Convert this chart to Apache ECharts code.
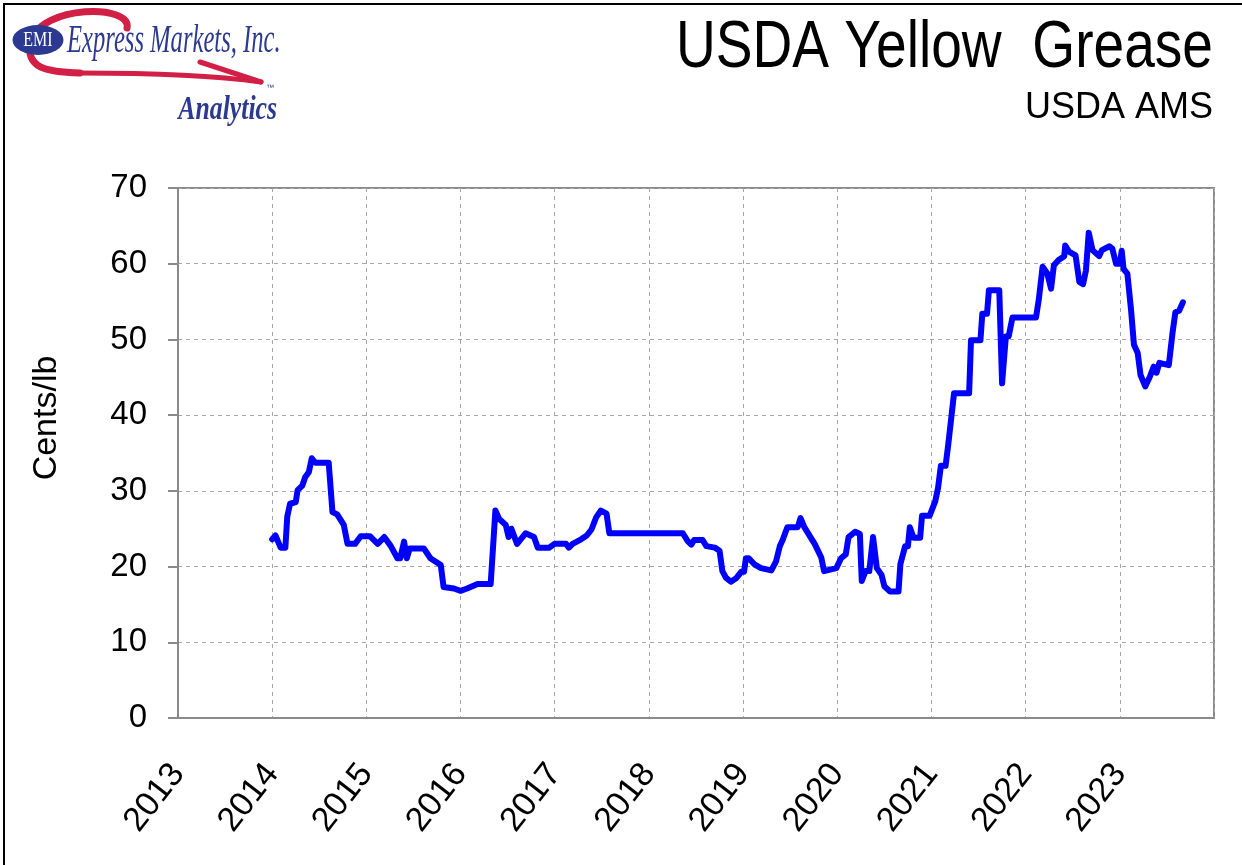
<!DOCTYPE html>
<html>
<head>
<meta charset="utf-8">
<script src="https://cdn.jsdelivr.net/npm/echarts@6/dist/echarts.min.js"></script>
<style>
html,body{margin:0;padding:0;background:#fff;}
#c{width:1242px;height:865px;}
</style>
</head>
<body>
<div id="c"></div>
<script>
// Decimal years and prices (cents/lb)
const years = [
2014.00,2014.035,2014.09,2014.14,2014.16,2014.19,2014.25,2014.27,2014.32,2014.35,2014.39,2014.42,2014.46,2014.60,2014.64,2014.69,2014.76,2014.80,2014.88,2014.94,
2015.04,2015.12,2015.19,2015.26,2015.33,2015.36,2015.40,2015.43,2015.46,2015.61,2015.68,2015.79,2015.82,2015.93,
2016.00,2016.07,2016.18,2016.32,2016.37,2016.41,2016.48,2016.51,2016.54,2016.60,2016.69,2016.78,2016.82,2016.94,
2017.00,2017.12,2017.15,2017.19,2017.28,2017.34,2017.39,2017.44,2017.49,2017.55,2017.58,
2018.36,2018.41,2018.45,2018.48,2018.57,2018.61,2018.70,2018.75,2018.78,2018.82,2018.87,2018.93,2018.98,
2019.01,2019.03,2019.06,2019.12,2019.19,2019.30,2019.35,2019.39,2019.42,2019.47,2019.58,2019.61,2019.65,2019.72,2019.76,2019.83,2019.86,2019.99,
2020.04,2020.09,2020.12,2020.19,2020.24,2020.26,2020.30,2020.34,2020.38,2020.42,2020.47,2020.50,2020.56,2020.65,2020.67,2020.72,2020.75,2020.77,2020.81,2020.88,2020.90,2020.98,
2021.04,2021.07,2021.10,2021.15,2021.18,2021.21,2021.24,2021.40,2021.42,2021.52,2021.54,2021.59,2021.61,2021.72,2021.75,2021.79,2021.82,2021.86,
2022.11,2022.14,2022.18,2022.23,2022.27,2022.30,2022.35,2022.41,2022.42,2022.46,2022.53,2022.57,2022.61,2022.64,2022.67,2022.71,2022.78,2022.81,2022.89,2022.92,2022.96,
2023.00,2023.02,2023.04,2023.08,2023.12,2023.15,2023.19,2023.22,2023.27,2023.32,2023.36,2023.39,2023.42,2023.52,2023.56,2023.59,2023.63,2023.67
];
const prices = [
23.6,24.1,22.5,22.5,26.6,28.3,28.5,30.1,30.7,31.8,32.5,34.3,33.7,33.7,27.2,26.9,25.5,23.0,23.0,24.0,
24.0,23.0,23.9,22.7,21.1,21.1,23.3,21.1,22.4,22.4,21.1,20.2,17.3,17.1,
16.8,17.1,17.7,17.7,27.4,26.3,25.5,23.9,25.0,23.0,24.4,23.9,22.5,22.5,
23.0,23.0,22.5,23.0,23.6,24.1,24.9,26.5,27.4,27.0,24.4,
24.4,23.4,22.9,23.5,23.5,22.7,22.5,22.1,19.4,18.5,18.0,18.5,19.3,
19.3,21.1,21.1,20.3,19.8,19.5,20.7,22.7,23.5,25.2,25.2,26.4,25.2,23.8,23.0,21.2,19.4,19.8,
21.1,21.6,23.9,24.6,24.3,18.1,19.4,19.4,23.9,19.8,18.9,17.4,16.7,16.7,20.3,22.7,22.7,25.2,23.8,23.8,26.7,26.7,
28.6,30.4,33.3,33.3,36.3,39.6,42.9,42.9,49.9,49.9,53.4,53.4,56.5,56.5,44.2,50.4,50.4,52.9,
52.9,55.3,59.6,58.7,56.7,59.8,60.5,61.0,62.4,61.6,61.1,57.6,57.3,59.1,64.1,61.8,61.0,61.8,62.3,62.0,60.0,
60.0,61.7,59.3,58.7,53.8,49.3,48.2,45.3,43.8,45.1,46.4,45.6,46.9,46.6,50.9,53.6,53.8,54.9
];
const yearTicks = [2013,2014,2015,2016,2017,2018,2019,2020,2021,2022,2023];
const titleText = 'USDA Yellow  Grease';
const subtitleText = 'USDA AMS';
const yAxisTitle = 'Cents/lb';

const seriesData = years.map((y, i) => [y, prices[i]]);
const SANS = "'Liberation Sans', Arial, sans-serif";

const chart = echarts.init(document.getElementById('c'), null, {renderer: 'canvas'});
chart.setOption({
  backgroundColor: '#ffffff',
  animation: false,
  grid: {left: 178, right: 28, top: 188, bottom: 147, show: true, borderColor: '#8a8a8a', borderWidth: 2, backgroundColor: 'transparent'},
  xAxis: {
    type: 'value', min: 2013, max: 2024, interval: 1,
    axisLine: {show: true, lineStyle: {color: '#8a8a8a', width: 2}},
    axisTick: {show: false},
    splitLine: {show: true, lineStyle: {color: '#a6a6a6', type: [4, 4], width: 1}},
    axisLabel: {
      rotate: 52, align: 'right', verticalAlign: 'middle', margin: 50,
      fontFamily: SANS, fontSize: 34, color: '#000',
      showMaxLabel: false,
      formatter: v => (yearTicks.indexOf(v) >= 0 ? String(v) : '')
    }
  },
  yAxis: {
    type: 'value', min: 0, max: 70, interval: 10,
    name: yAxisTitle, nameLocation: 'middle', nameGap: 114, nameRotate: 90,
    nameTextStyle: {fontFamily: SANS, fontSize: 34, color: '#000', padding: [0, 0, 0, 70]},
    axisLine: {show: true, lineStyle: {color: '#8a8a8a', width: 2}},
    axisTick: {show: true, inside: false, length: 10, lineStyle: {color: '#8a8a8a', width: 2}},
    splitLine: {show: true, lineStyle: {color: '#a6a6a6', type: [4, 4], width: 1}},
    axisLabel: {margin: 31, fontFamily: SANS, fontSize: 33, color: '#000'}
  },
  series: [{
    type: 'line', data: seriesData, showSymbol: false, symbol: 'none',
    lineStyle: {color: '#0000ff', width: 6, join: 'round', cap: 'round'},
    z: 5
  }],
  graphic: [
    // outer frame (top & left visible)
    {type: 'rect', shape: {x: 4, y: 4, width: 1300, height: 900}, style: {fill: 'none', stroke: '#000', lineWidth: 2}, silent: true},
    // title
    {type: 'text', x: 1213, y: 49, scaleX: 0.835, style: {text: titleText, align: 'right', verticalAlign: 'middle', font: "66px 'Liberation Sans', Arial, sans-serif", fill: '#000'}},
    {type: 'text', x: 1213, y: 108, style: {text: subtitleText, align: 'right', verticalAlign: 'middle', font: "36px 'Liberation Sans', Arial, sans-serif", fill: '#000'}},
    // logo swoosh
    {type: 'bezierCurve', shape: {x1: 127, y1: 28, cpx1: 132, cpy1: 4, cpx2: 42, cpy2: 4, x2: 30, y2: 42}, style: {stroke: '#d21f45', lineWidth: 7, fill: 'none', lineCap: 'round'}},
    {type: 'bezierCurve', shape: {x1: 30, y1: 42, cpx1: 26, cpy1: 68, cpx2: 45, cpy2: 72, x2: 80, y2: 73}, style: {stroke: '#d21f45', lineWidth: 7, fill: 'none', lineCap: 'round'}},
    {type: 'bezierCurve', shape: {x1: 80, y1: 73, cpx1: 150, cpy1: 73, cpx2: 210, cpy2: 75, x2: 261, y2: 82}, style: {stroke: '#d21f45', lineWidth: 5, fill: 'none', lineCap: 'round'}},
    {type: 'line', shape: {x1: 200, y1: 62, x2: 261, y2: 82}, style: {stroke: '#d21f45', lineWidth: 5, lineCap: 'round'}},
    // logo ellipse
    {type: 'circle', x: 38, y: 40, scaleX: 1.7, shape: {cx: 0, cy: 0, r: 15}, style: {fill: '#2b3990'}},
    {type: 'text', x: 38, y: 41, scaleX: 0.8, style: {text: 'EMI', align: 'center', verticalAlign: 'middle', font: "20px 'Liberation Serif', 'Times New Roman', serif", fill: '#fff'}},
    {type: 'text', x: 67, y: 41, scaleX: 0.6, style: {text: 'Express Markets, Inc.', align: 'left', verticalAlign: 'middle', font: "italic 41px 'Liberation Serif', 'Times New Roman', serif", fill: '#2b3990'}},
    {type: 'text', x: 277, y: 110, scaleX: 0.78, style: {text: 'Analytics', align: 'right', verticalAlign: 'middle', font: "italic bold 33px 'Liberation Serif', 'Times New Roman', serif", fill: '#2b3990'}},
    {type: 'text', x: 270, y: 88, style: {text: '\u2122', align: 'center', verticalAlign: 'middle', font: "8px 'Liberation Sans', Arial, sans-serif", fill: '#2b3990'}}
  ]
});
</script>
</body>
</html>
